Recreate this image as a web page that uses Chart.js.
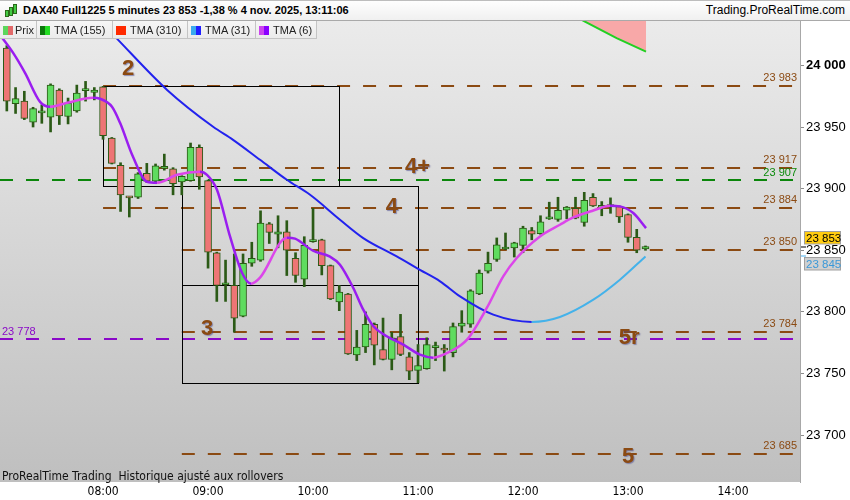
<!DOCTYPE html>
<html>
<head>
<meta charset="utf-8">
<script src="https://cdn.jsdelivr.net/npm/chart.js@4.4.1/dist/chart.umd.min.js"></script>
<style>
  body { margin: 0; background: #fff; }
  #wrap { position: relative; width: 850px; height: 500px; overflow: hidden; font-family: "Liberation Sans", Arial, sans-serif; }
  #chartBox { position: absolute; left: 0; top: 0; width: 850px; height: 500px; }
  #header { position: absolute; left: 0; top: 0; width: 850px; height: 21px; box-sizing: border-box;
    border-top: 1px solid #bdbdbd; border-bottom: 1px solid #a9a9a9; background: linear-gradient(#fefefe, #f0f0f0); }
  #title { position: absolute; left: 23px; top: 3px; font-size: 11px; font-weight: bold; color: #000; }
  #site { position: absolute; right: 5px; top: 2px; font-size: 12px; color: #000; }
  .ico { position: absolute; background: #44cc44; border: 1px solid #2b6a1a; width: 2px; }
  #legend { position: absolute; left: 0; top: 21px; height: 18px; width: 317px; box-sizing: border-box;
    background: linear-gradient(#f6f6f6, #ebebeb); border-bottom: 1px solid #c4c4c4; border-right: 1px solid #c4c4c4; }
  .item { position: absolute; top: 0; height: 17px; border-right: 1px solid #c4c4c4; box-sizing: border-box; font-size: 11px; color: #222; }
  .item i { position: absolute; left: 3px; top: 5px; width: 10px; height: 9px; }
  .item span { position: absolute; top: 3px; }
  #foot { position: absolute; left: 2px; top: 469px; font-size: 12px; color: #111;
    font-family: "Liberation Sans Narrow", "DejaVu Sans Condensed", "Arial Narrow", sans-serif; }
</style>
</head>
<body>
<div id="wrap">
  <div id="chartBox"><canvas id="chart"></canvas></div>
  <div id="header">
    <div class="ico" style="left:5px;top:9px;height:5px"></div>
    <div class="ico" style="left:9px;top:6px;height:7px"></div>
    <div class="ico" style="left:13px;top:3px;height:8px"></div>
    <div id="title">DAX40 Full1225 5 minutes 23 853 -1,38 % 4 nov. 2025, 13:11:06</div>
    <div id="site">Trading.ProRealTime.com</div>
  </div>
  <div id="legend">
    <div class="item" style="left:0;width:37px"><i style="background:linear-gradient(90deg,#5cd65c 50%,#e26a6a 50%)"></i><span style="left:15px">Prix</span></div>
    <div class="item" style="left:37px;width:76px"><i style="background:linear-gradient(90deg,#0b780b 50%,#22dd22 50%)"></i><span style="left:17px">TMA (155)</span></div>
    <div class="item" style="left:113px;width:75px"><i style="background:#ff2a00"></i><span style="left:17px">TMA (310)</span></div>
    <div class="item" style="left:188px;width:68px"><i style="background:linear-gradient(90deg,#3aaaee 50%,#2020ff 50%)"></i><span style="left:17px">TMA (31)</span></div>
    <div class="item" style="left:256px;width:61px;border-right:none"><i style="background:linear-gradient(90deg,#cc44ee 50%,#8a00ff 50%)"></i><span style="left:17px">TMA (6)</span></div>
  </div>
  <div id="foot">ProRealTime Trading&nbsp; Historique ajusté aux rollovers</div>
</div>
<script>
// 5 minute bars, first one at 07:05
const firstBar = "07:05";
const barStep = 5;

const opens = [24014, 23969, 23971, 23954, 23961.5, 23958, 23980, 23958.5, 23963, 23979.5,
  23978, 23982.5, 23941, 23919, 23893, 23893, 23912.5, 23906, 23916.5, 23916,
  23905.5, 23906.5, 23933.5, 23906.5, 23848, 23822, 23821.5, 23796.5, 23839.5, 23842,
  23871.5, 23863, 23865, 23843.5, 23826.5, 23857, 23858.5, 23837.5, 23808, 23814.5,
  23765, 23771.5, 23790, 23769.5, 23761.5, 23780, 23763.5, 23752.5, 23754, 23771,
  23769.5, 23767, 23788.5, 23790, 23814.5, 23833, 23842.5, 23851, 23852, 23854,
  23866, 23863.5, 23875.5, 23875, 23882.5, 23884, 23872.5, 23893, 23884.5, 23885.5,
  23885.5, 23879, 23860.5, 23851];
const highs = [24016, 23982, 23979, 23966, 23968, 23985, 23981, 23973.5, 23984, 23987,
  23982, 23983, 23941.5, 23921, 23893.5, 23913, 23920.5, 23920, 23928, 23917,
  23910.5, 23937, 23935.5, 23907, 23848.5, 23842, 23847, 23847, 23856.5, 23882,
  23872.5, 23878, 23874, 23848, 23861, 23884, 23859, 23838, 23821.5, 23815,
  23785, 23800, 23791, 23795, 23783.5, 23798, 23767, 23773.5, 23779, 23775.5,
  23773.5, 23791, 23801, 23818, 23834, 23848.5, 23860, 23864, 23856.5, 23869.5,
  23868.5, 23878, 23889, 23893, 23885.5, 23893, 23897, 23896, 23889.5, 23892.5,
  23886, 23879.5, 23867, 23853.5];
const lows = [23963, 23961, 23956, 23950, 23953, 23946, 23952, 23952.5, 23962, 23971,
  23972, 23940, 23920, 23881.5, 23877, 23892, 23905, 23904, 23915, 23895,
  23895, 23906, 23899.5, 23835.5, 23808.5, 23808.5, 23783.5, 23796, 23837, 23841,
  23855.5, 23852, 23829.5, 23824, 23820.5, 23856.5, 23830, 23810, 23801, 23765.5,
  23760.5, 23767, 23757, 23761, 23753, 23764.5, 23745, 23742.5, 23753.5, 23760.5,
  23752, 23763.5, 23783.5, 23787.5, 23814, 23831.5, 23841, 23850.5, 23844.5, 23848,
  23858.5, 23863, 23875, 23873.5, 23875.5, 23875.5, 23869.5, 23885.5, 23878, 23880,
  23872.5, 23856.5, 23848, 23850];
const closes = [23971, 23973, 23957, 23965, 23962.5, 23984, 23959, 23969.5, 23977.5, 23980,
  23980, 23943, 23920.5, 23895, 23892.5, 23912, 23906, 23918.5, 23917, 23904,
  23910, 23933.5, 23909.5, 23848.5, 23821.5, 23822.5, 23795, 23839.5, 23843.5, 23872,
  23864.5, 23865, 23850, 23829.5, 23854, 23858, 23837.5, 23810.5, 23816, 23766,
  23771.5, 23790, 23773, 23761.5, 23779, 23765.5, 23752, 23756.5, 23773.5, 23771.5,
  23769, 23788, 23791, 23817, 23831.5, 23839.5, 23854.5, 23851.5, 23856, 23868,
  23863, 23873, 23877, 23882.5, 23885, 23876, 23890.5, 23886, 23886.5, 23886,
  23877, 23860.5, 23850, 23853];

// moving averages (x in minutes since midnight)
const tma31Min = [466.9, 488.6, 516.6, 542.9, 554.3, 569.7, 585.0, 598.3, 615.4, 628.7,
  647.8, 661.1, 672.6, 684.0, 703.0, 725.0, 741.1, 760.2, 775.4, 790.0];
const tma31Val = [24053.1, 24020.7, 23980.1, 23950.2, 23939.6, 23923.4, 23907.2, 23895.0, 23874.8, 23859.9,
  23845.0, 23834.1, 23824.8, 23812.6, 23797.8, 23791.9, 23795.9, 23809.9, 23826.1, 23845];
const tma6Min = [421.1, 428.6, 435.4, 444.0, 449.7, 459.4, 474.3, 478.3, 485.1, 489.7,
  497.1, 505.1, 510.9, 522.3, 535.4, 539.4, 545.1, 552.6, 559.4, 564.6,
  569.7, 585.1, 589.7, 600.0, 609.7, 615.4, 623.0, 628.7, 634.5, 642.1,
  651.6, 661.1, 668.6, 678.3, 688.0, 699.3, 708.7, 716.4, 729.7, 741.1,
  748.7, 760.2, 769.7, 775.4, 783.0, 790.3];
const tma6Val = [24024.7, 24010.1, 23993.9, 23970.4, 23966.4, 23969.6, 23973.7, 23972.9, 23966.4, 23953.4,
  23925.8, 23905.6, 23904.8, 23911.2, 23913.7, 23911.2, 23899.1, 23861.0, 23831.8, 23822.9,
  23827.8, 23860.2, 23859.4, 23849.6, 23844.8, 23838.3, 23819.4, 23801.8, 23788.3, 23780.2,
  23773.4, 23765.3, 23762.9, 23767.8, 23777.5, 23803.2, 23828.8, 23843.7, 23861.2, 23870.7,
  23876.6, 23882.3, 23886.1, 23885.6, 23880.2, 23868.0];
const tma155Min = [741.1, 755.4, 773.5, 790.3];
const tma155Val = [24046.6, 24035.5, 24022.1, 24011.2];
const tma310Val = [24075, 24072, 24069, 24066];

// support / resistance levels
const levelPrice = [23983, 23917, 23884, 23850, 23784, 23685];
const levelFrom = ["08:00", "08:00", "08:00", "08:45", "08:45", "08:45"];
const greenLevel = 23907;
const purpleLevel = 23778;

// boxes
const boxFrom = ["08:00", "08:45"];
const boxTo = ["10:15", "11:00"];
const boxTop = [23983, 23902];
const boxBottom = [23902, 23742];
const boxMid = [null, 23822];

// wave marks
const waveText = ["2", "4+", "4", "3", "5r", "5"];
const waveTime = [494.3, 659.7, 645.1, 539.4, 780.6, 780];
const wavePrice = [23996.8, 23917.6, 23885.3, 23786, 23778.9, 23682];

const hourTicks = ["08:00", "09:00", "10:00", "11:00", "12:00", "13:00", "14:00"];
const priceTicks = [23700, 23750, 23800, 23850, 23900, 23950, 24000];
const lastPrice = 23853;
const lastTma31 = 23845;

const toMin = (s) => { const [h, m] = s.split(":").map(Number); return h * 60 + m; };
const fmt = (v) => String(v).replace(/\B(?=(\d{3})+(?!\d))/g, " ");

const barTimes = opens.map((_, i) => toMin(firstBar) + i * barStep);
const pts = (xs, ys) => xs.map((x, i) => ({ x: x, y: ys[i] }));

const UP = "#5fdc5f", DOWN = "#ee7575", EDGE = "#2b5a16";
const BROWN = "#8b4a12";

function upDown(fall, rise) {
  return (ctx) => (ctx.p1.parsed.y < ctx.p0.parsed.y ? fall : rise);
}

const overlay = {
  id: "overlay",
  beforeDraw(chart) {
    const { ctx, chartArea: a } = chart;
    const g = ctx.createLinearGradient(0, a.top, 0, a.bottom);
    g.addColorStop(0, "#ebebeb");
    g.addColorStop(1, "#bfbfbf");
    ctx.save();
    ctx.fillStyle = g;
    ctx.fillRect(a.left, a.top, a.right - a.left, a.bottom - a.top);
    ctx.restore();
  },
  beforeDatasetsDraw(chart) {
    const { ctx, chartArea: a } = chart;
    const xs = chart.scales.x, ys = chart.scales.y;
    ctx.save();
    ctx.beginPath();
    ctx.rect(a.left, a.top, a.right - a.left, a.bottom - a.top);
    ctx.clip();

    const dashed = (y, x0, color) => {
      ctx.strokeStyle = color;
      ctx.lineWidth = 2;
      ctx.setLineDash([13, 13]);
      ctx.beginPath();
      ctx.moveTo(x0, y);
      ctx.lineTo(a.right, y);
      ctx.stroke();
    };
    levelPrice.forEach((p, i) => {
      dashed(Math.round(ys.getPixelForValue(p)), xs.getPixelForValue(toMin(levelFrom[i])), BROWN);
    });
    dashed(Math.round(ys.getPixelForValue(greenLevel)), a.left, "#0b860b");
    dashed(Math.round(ys.getPixelForValue(purpleLevel)), a.left, "#8a08c8");
    ctx.setLineDash([]);

    ctx.strokeStyle = "#000";
    ctx.lineWidth = 1;
    boxFrom.forEach((f, i) => {
      const x0 = Math.round(xs.getPixelForValue(toMin(f))) + 0.5;
      const x1 = Math.round(xs.getPixelForValue(toMin(boxTo[i]))) + 0.5;
      const y0 = Math.round(ys.getPixelForValue(boxTop[i])) + 0.5;
      const y1 = Math.round(ys.getPixelForValue(boxBottom[i])) + 0.5;
      ctx.strokeRect(x0, y0, x1 - x0, y1 - y0);
      if (boxMid[i] !== null) {
        const ym = Math.round(ys.getPixelForValue(boxMid[i])) + 0.5;
        ctx.beginPath();
        ctx.moveTo(x0, ym);
        ctx.lineTo(x1, ym);
        ctx.stroke();
      }
    });

    ctx.font = "11px 'Liberation Sans', Arial";
    ctx.textBaseline = "middle";
    ctx.textAlign = "right";
    levelPrice.forEach((p) => {
      ctx.fillStyle = BROWN;
      ctx.fillText(fmt(p), a.right - 3, ys.getPixelForValue(p) - 8);
    });
    ctx.fillStyle = "#0b8a0b";
    ctx.fillText(fmt(greenLevel), a.right - 3, ys.getPixelForValue(greenLevel) - 7);
    ctx.textAlign = "left";
    ctx.fillStyle = "#8a08c8";
    ctx.fillText(fmt(purpleLevel), a.left + 2, ys.getPixelForValue(purpleLevel) - 7);
    ctx.restore();
  },
  afterDatasetsDraw(chart) {
    const { ctx, chartArea: a } = chart;
    const xs = chart.scales.x, ys = chart.scales.y;
    ctx.save();
    ctx.font = "bold 22px 'Liberation Sans', Arial";
    ctx.textAlign = "center";
    ctx.textBaseline = "middle";
    ctx.shadowColor = "rgba(70,70,140,0.55)";
    ctx.shadowOffsetX = 1;
    ctx.shadowOffsetY = 1;
    ctx.shadowBlur = 1;
    ctx.fillStyle = BROWN;
    waveText.forEach((t, i) => {
      ctx.fillText(t, xs.getPixelForValue(waveTime[i]), ys.getPixelForValue(wavePrice[i]));
    });
    ctx.restore();

    // price tags on the axis
    ctx.save();
    ctx.font = "11.5px 'Liberation Sans', Arial";
    ctx.textBaseline = "middle";
    ctx.textAlign = "left";
    const tag = (v, dy, bg, fg, tick) => {
      const y = ys.getPixelForValue(v);
      const cy = Math.round(y + dy);
      ctx.fillStyle = tick;
      ctx.fillRect(a.right + 1, Math.round(y) - 0.5, 5, 1);
      ctx.fillStyle = bg;
      ctx.fillRect(a.right + 4.5, cy - 6, 36, 12);
      ctx.strokeStyle = "#a0a0a0";
      ctx.lineWidth = 1;
      ctx.strokeRect(a.right + 4.5, cy - 6.5, 36, 12.5);
      ctx.fillStyle = fg;
      ctx.fillText(fmt(v), a.right + 6, cy + 0.5);
    };
    tag(lastPrice, -8.5, "#ffcc11", "#000", "#000");
    tag(lastTma31, 8, "#d0d0d0", "#3a98d8", "#4ab0ee");
    ctx.restore();
  }
};

new Chart(document.getElementById("chart"), {
  type: "bar",
  data: {
    datasets: [
      {
        label: "wicks",
        data: barTimes.map((t, i) => ({ x: t, y: [lows[i], highs[i]] })),
        backgroundColor: EDGE,
        barThickness: 2,
        grouped: false,
        order: 4,
      },
      {
        label: "Prix",
        data: barTimes.map((t, i) => ({ x: t, y: [opens[i], closes[i]] })),
        backgroundColor: closes.map((c, i) => (c >= opens[i] ? UP : DOWN)),
        borderColor: EDGE,
        borderWidth: 1,
        borderSkipped: false,
        barThickness: 7,
        minBarLength: 2,
        grouped: false,
        order: 3,
      },
      {
        type: "line",
        label: "TMA (155)",
        data: pts(tma155Min, tma155Val),
        borderColor: "#22d022",
        borderWidth: 2,
        pointRadius: 0,
        fill: "+1",
        backgroundColor: "#f8a8a8",
        order: 2,
      },
      {
        type: "line",
        label: "TMA (310)",
        data: pts(tma155Min, tma310Val),
        borderColor: "#ff2a00",
        borderWidth: 2,
        pointRadius: 0,
        order: 2,
      },
      {
        type: "line",
        label: "TMA (31)",
        data: pts(tma31Min, tma31Val),
        borderWidth: 2,
        pointRadius: 0,
        cubicInterpolationMode: "monotone",
        segment: { borderColor: upDown("#2222ee", "#44b2ea") },
        order: 1,
      },
      {
        type: "line",
        label: "TMA (6)",
        data: pts(tma6Min, tma6Val),
        borderWidth: 2.5,
        pointRadius: 0,
        cubicInterpolationMode: "monotone",
        segment: { borderColor: upDown("#9a1ef0", "#dc46ea") },
        order: 0,
      },
    ],
  },
  options: {
    responsive: true,
    maintainAspectRatio: false,
    animation: false,
    layout: { padding: { top: 21, left: 0, right: 0, bottom: 0 } },
    plugins: { legend: { display: false }, tooltip: { enabled: false } },
    scales: {
      x: {
        type: "linear",
        min: 421.1,
        max: 878.3,
        offset: false,
        grid: { display: false, drawTicks: false, offset: false },
        border: { display: false },
        afterBuildTicks: (s) => { s.ticks = hourTicks.map((h) => ({ value: toMin(h) })); },
        afterFit: (s) => { s.height = 18; },
        ticks: {
          autoSkip: false,
          maxRotation: 0,
          padding: 3,
          color: "#000",
          font: { family: "'Liberation Sans Narrow', 'DejaVu Sans Condensed', 'Arial Narrow', sans-serif", size: 12 },
          callback: (v) => hourTicks.find((h) => toMin(h) === v) || "",
        },
      },
      y: {
        type: "linear",
        position: "right",
        min: 23662,
        max: 24036,
        beginAtZero: false,
        grid: { drawOnChartArea: false, drawTicks: true, tickLength: 4, color: "#8c8c8c" },
        border: { display: true, color: "#a8a8a8" },
        afterBuildTicks: (s) => { s.ticks = priceTicks.map((v) => ({ value: v })); },
        afterFit: (s) => { s.width = 50; },
        ticks: {
          padding: 2,
          color: "#000",
          font: (c) => ({ family: "'Liberation Sans', Arial", size: 13, weight: c.tick && c.tick.value === 24000 ? "bold" : "normal" }),
          callback: (v) => fmt(v),
        },
      },
    },
  },
  plugins: [overlay],
});
</script>
</body>
</html>
